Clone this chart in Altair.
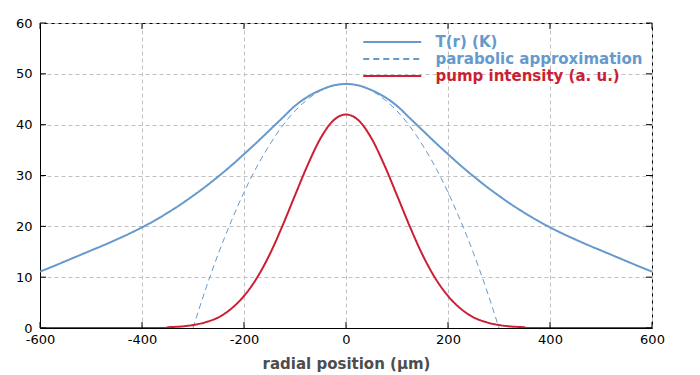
import altair as alt
import pandas as pd

# radial positions (µm) and values
r_T = [-600, -575, -550, -525, -500, -475, -450, -425, -400, -375, -350, -325, -300, -275, -250, -225,
       -200, -175, -150, -125, -100, -75, -50, -25, 0, 25, 50, 75, 100, 125, 150, 175, 200, 225, 250,
       275, 300, 325, 350, 375, 400, 425, 450, 475, 500, 525, 550, 575, 600]
T_vals = [11.1, 12.1, 13.15, 14.2, 15.25, 16.3, 17.4, 18.55, 19.8, 21.15, 22.65, 24.25, 26.0, 27.85, 29.85,
          31.95, 34.2, 36.5, 38.9, 41.3, 43.7, 45.5, 46.8, 47.7, 48.0, 47.7, 46.8, 45.5, 43.7, 41.3, 38.9,
          36.5, 34.2, 31.95, 29.85, 27.85, 26.0, 24.25, 22.65, 21.15, 19.8, 18.55, 17.4, 16.3, 15.25, 14.2,
          13.15, 12.1, 11.1]

r_par = [-300, -275, -250, -225, -200, -175, -150, -125, -100, -75, -50, -25, 0,
         25, 50, 75, 100, 125, 150, 175, 200, 225, 250, 275, 300]
par_vals = [0.0, 7.7, 14.7, 21.0, 26.7, 31.7, 36.0, 39.7, 42.7, 45.0, 46.7, 47.7, 48.0,
            47.7, 46.7, 45.0, 42.7, 39.7, 36.0, 31.7, 26.7, 21.0, 14.7, 7.7, 0.0]

r_pump = [-600, -350, -350, -325, -300, -275, -250, -225, -200, -175, -150, -125, -100, -75, -50, -25, 0,
          25, 50, 75, 100, 125, 150, 175, 200, 225, 250, 275, 300, 325, 350, 350, 600]
pump_vals = [0.0, 0.0, 0.12, 0.28, 0.58, 1.15, 2.1, 3.8, 6.3, 9.8, 14.4, 20.0, 26.1, 32.1, 37.3, 40.8, 42.0,
             40.8, 37.3, 32.1, 26.1, 20.0, 14.4, 9.8, 6.3, 3.8, 2.1, 1.15, 0.58, 0.28, 0.12, 0.0, 0.0]

series_names = ["T(r) (K)", "parabolic approximation", "pump intensity (a. u.)"]
x_ticks = [-600, -400, -200, 0, 200, 400, 600]
y_ticks = [0, 10, 20, 30, 40, 50, 60]

BLUE = "#6699cc"
RED = "#cc1f33"
W, H = 612, 305


def frame(xs, ys, name):
    return pd.DataFrame({"r": xs, "v": ys, "s": name, "o": list(range(len(xs)))})


xscale = alt.Scale(domain=[-600, 600], nice=False, zero=False)
yscale = alt.Scale(domain=[0, 60], nice=False)
cscale = alt.Scale(domain=series_names, range=[BLUE, BLUE, RED])
dscale = alt.Scale(domain=series_names, range=[[1, 0], [6, 4], [1, 0]])

label_color_expr = "datum.value == 'pump intensity (a. u.)' ? '" + RED + "' : '" + BLUE + "'"
hyphen_expr = "datum.value < 0 ? '-' + abs(datum.value) : '' + datum.value"

legend = alt.Legend(title=None, orient="none", legendX=343.75, legendY=10.5,
                    symbolType="M-4,0H4", symbolSize=210, symbolStrokeWidth=2,
                    labelOffset=34.75, labelFontSize=15, labelFont="DejaVu Sans",
                    labelFontWeight="bold", labelColor={"expr": label_color_expr},
                    rowPadding=0, padding=0, labelLimit=400)

x_enc = alt.X("r:Q", scale=xscale,
              axis=alt.Axis(values=x_ticks, title="radial position (µm)", grid=True,
                            tickSize=0, labelPadding=5, titlePadding=10, labelFlush=False,
                            labelExpr=hyphen_expr))
y_enc = alt.Y("v:Q", scale=yscale,
              axis=alt.Axis(values=y_ticks, title=None, grid=True, tickSize=0, labelPadding=8,
                            labelFlush=False))


def series_layer(d, width):
    return alt.Chart(d).mark_line(interpolate="monotone", clip=True, strokeWidth=width).encode(
        x=x_enc, y=y_enc, order="o:Q",
        color=alt.Color("s:N", scale=cscale, legend=legend),
        strokeDash=alt.StrokeDash("s:N", scale=dscale, legend=legend),
    )


layer_T = series_layer(frame(r_T, T_vals, series_names[0]), 2)
layer_P = series_layer(frame(r_par, par_vals, series_names[1]), 1)
layer_I = series_layer(frame(r_pump, pump_vals, series_names[2]), 2)

xt = pd.DataFrame({"t": x_ticks})
yt = pd.DataFrame({"t": y_ticks})
tick_b = alt.Chart(xt).mark_rule(color="black", strokeWidth=1).encode(
    x=alt.X("t:Q", scale=xscale), y=alt.value(H), y2=alt.value(H - 6))
tick_t = alt.Chart(xt).mark_rule(color="black", strokeWidth=1).encode(
    x=alt.X("t:Q", scale=xscale), y=alt.value(0), y2=alt.value(6))
tick_l = alt.Chart(yt).mark_rule(color="black", strokeWidth=1).encode(
    y=alt.Y("t:Q", scale=yscale), x=alt.value(0), x2=alt.value(6))
tick_r = alt.Chart(yt).mark_rule(color="black", strokeWidth=1).encode(
    y=alt.Y("t:Q", scale=yscale), x=alt.value(W), x2=alt.value(W - 6))

chart = alt.layer(layer_T, layer_P, layer_I, tick_b, tick_t, tick_l, tick_r).properties(
    width=W, height=H,
    background="white",
    autosize=alt.AutoSizeParams(type="none"),
    padding={"left": 32, "top": 15, "right": 40, "bottom": 45},
).configure_view(stroke="black", strokeWidth=1).configure_axis(
    domainColor="black", labelColor="black", labelFont="DejaVu Sans", labelFontSize=13,
    titleFont="DejaVu Sans", titleFontSize=15, titleFontWeight="bold", titleColor="#4d4d4d",
    gridColor="#c0c0c0", gridDash=[4, 3], gridWidth=1,
)

chart.save("out.html", embed_options={"renderer": "svg", "actions": False})
